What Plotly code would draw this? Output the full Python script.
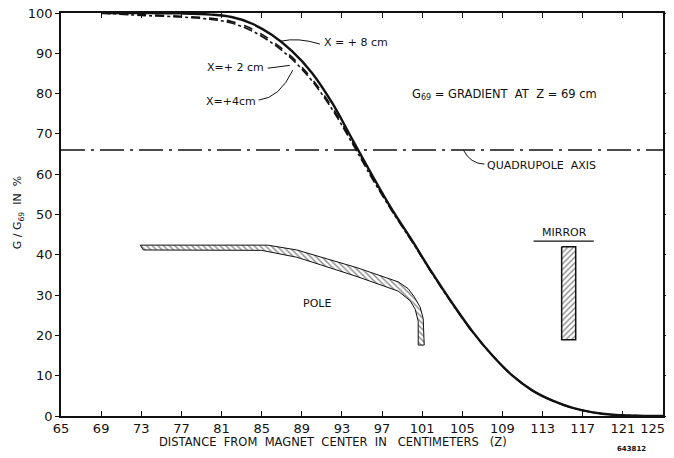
import plotly.graph_objects as go

# ---- data ----
z = [69, 73, 77, 80, 82, 84, 86, 88, 90, 92, 94, 96, 98, 100, 102, 104, 106, 108, 110, 112, 114, 116, 118, 120, 122, 125]
g_x8 = [100, 100, 99.9, 99.6, 99.0, 97.4, 94.6, 90.6, 85.2, 77.8, 68.8, 59.8, 51.2, 43.5, 35.5, 28.0, 21.0, 15.0, 10.0, 6.3, 3.8, 2.0, 0.9, 0.3, 0.1, 0.0]
g_x2 = [100, 99.6, 99.2, 98.7, 97.9, 96.1, 93.1, 89.1, 83.7, 76.7, 68.2, 59.3, 51.0, 43.3, 35.4, 27.9, 20.9, 15.0, 10.0, 6.3, 3.8, 2.0, 0.9, 0.3, 0.1, 0.0]
g_x4 = [100, 99.4, 99.0, 98.4, 97.5, 95.6, 92.6, 88.6, 83.2, 76.2, 67.8, 59.0, 50.8, 43.2, 35.3, 27.8, 20.9, 15.0, 10.0, 6.3, 3.8, 2.0, 0.9, 0.3, 0.1, 0.0]

quad_axis = 66

pole_z = [72.9, 85.6, 88.5, 90.9, 94.5, 98.6, 99.6, 100.2, 100.8, 101.1, 101.2,
          100.6, 100.6, 100.3, 99.8, 98.6, 94.5, 90.9, 88.5, 85.0, 73.2, 72.9]
pole_g = [42.4, 42.4, 41.2, 39.5, 36.8, 33.3, 31.6, 29.6, 27.0, 24.2, 17.6,
          17.6, 23.5, 26.5, 28.6, 31.0, 34.6, 37.5, 39.4, 41.1, 41.2, 42.4]

mirror_z = [114.9, 116.3, 116.3, 114.9, 114.9]
mirror_g = [42.0, 42.0, 18.9, 18.9, 42.0]

x_ticks = [65, 69, 73, 77, 81, 85, 89, 93, 97, 101, 105, 109, 113, 117, 121, 125]
x_tick_labels = ["65", "69", "73", "77", "81", "85", "89", "93", "97", "101", "105", "109", "113", "117", "121", "125"]
y_ticks = [0, 10, 20, 30, 40, 50, 60, 70, 80, 90, 100]

FONT = "DejaVu Sans"
BLACK = "#111111"

fig = go.Figure()

# pole and mirror (hatched)
fig.add_trace(go.Scatter(x=pole_z, y=pole_g, mode="lines", fill="toself",
                         line=dict(color=BLACK, width=1),
                         fillcolor="rgba(255,255,255,0)",
                         fillpattern=dict(shape="\\", fgcolor=BLACK, bgcolor="white", size=4, solidity=0.35),
                         hoverinfo="skip", showlegend=False))
fig.add_trace(go.Scatter(x=mirror_z, y=mirror_g, mode="lines", fill="toself",
                         line=dict(color=BLACK, width=1.5),
                         fillcolor="rgba(255,255,255,0)",
                         fillpattern=dict(shape="/", fgcolor=BLACK, bgcolor="white", size=4, solidity=0.35),
                         hoverinfo="skip", showlegend=False))

# curves
fig.add_trace(go.Scatter(x=z, y=g_x4, mode="lines", line=dict(color=BLACK, width=1.6, dash="dashdot", shape="spline"),
                         name="X=+4cm", showlegend=False))
fig.add_trace(go.Scatter(x=z, y=g_x2, mode="lines", line=dict(color=BLACK, width=1.6, dash="dash", shape="spline"),
                         name="X=+2cm", showlegend=False))
fig.add_trace(go.Scatter(x=z, y=g_x8, mode="lines", line=dict(color=BLACK, width=2.4, shape="spline"),
                         name="X=+8cm", showlegend=False))

# quadrupole axis line
fig.add_hline(y=quad_axis, line=dict(color=BLACK, width=1.3, dash="24px,6px,3px,6px"))

# leader lines
leaders = [
    "M 90.8,92.3 Q 88.6,94.0 86.9,93.0",
    "M 85.6,86.3 L 87.8,87.0",
    "M 84.7,78.4 Q 86.8,78.9 88.1,85.8",
    "M 105.1,66.0 Q 105.8,62.6 107.2,62.5",
]
for p in leaders:
    fig.add_shape(type="path", path=p, xref="x", yref="y", line=dict(color=BLACK, width=1))

# mirror label underline
fig.add_shape(type="line", x0=112.1, x1=118.1, y0=43.4, y1=43.4, xref="x", yref="y",
              line=dict(color=BLACK, width=1.2))

ann_font = dict(family=FONT, size=11, color=BLACK)
anns = [
    dict(x=91.0, y=92.6, text="X = + 8 cm", xanchor="left"),
    dict(x=85.4, y=86.5, text="X=+ 2 cm", xanchor="right"),
    dict(x=84.6, y=78.1, text="X=+4cm", xanchor="right"),
    dict(x=99.8, y=79.7, text="G<sub>69</sub> = GRADIENT  AT  Z = 69 cm", xanchor="left", size=11.5),
    dict(x=107.3, y=62.2, text="QUADRUPOLE  AXIS", xanchor="left", size=11),
    dict(x=90.5, y=28.0, text="POLE", xanchor="center"),
    dict(x=115.2, y=45.6, text="MIRROR", xanchor="center"),
]
for a in anns:
    f = dict(ann_font)
    if "size" in a:
        f["size"] = a.pop("size")
    fig.add_annotation(xref="x", yref="y", showarrow=False, font=f, yanchor="middle", **a)

# axis titles and id number
fig.add_annotation(xref="paper", yref="paper", x=-0.085, y=0.505, text="G / G<sub>69</sub>  IN  %",
                   textangle=-90, showarrow=False, font=dict(family=FONT, size=11, color=BLACK))
fig.add_annotation(xref="paper", yref="paper", x=0.452, y=-0.064,
                   text="DISTANCE  FROM  MAGNET  CENTER  IN   CENTIMETERS   (Z)",
                   showarrow=False, font=dict(family=FONT, size=11.5, color=BLACK), yanchor="middle")
fig.add_annotation(xref="paper", yref="paper", x=0.975, y=-0.083, text="<b>643812</b>",
                   showarrow=False, font=dict(family=FONT, size=7, color=BLACK), yanchor="middle")

# keep the last x label inside the window edge
tick_text = x_tick_labels[:-1] + [x_tick_labels[-1] + "&nbsp;" * 5]

# the page body adds an 8px offset, margins compensate for it
fig.update_layout(
    width=674, height=458,
    margin=dict(l=53, r=19, t=5, b=50),
    paper_bgcolor="white", plot_bgcolor="white",
    font=dict(family=FONT, color=BLACK),
    xaxis=dict(range=[65, 125], tickvals=x_ticks, ticktext=tick_text,
               automargin=False, ticklabeloverflow="allow",
               showgrid=False, zeroline=False, showline=True, linecolor=BLACK, linewidth=1.5,
               mirror="ticks", ticks="inside", ticklen=5, tickcolor=BLACK,
               tickfont=dict(family=FONT, size=13, color=BLACK)),
    yaxis=dict(range=[0, 100], tickvals=y_ticks, showgrid=False, zeroline=False,
               automargin=False, ticklabeloverflow="allow",
               showline=True, linecolor=BLACK, linewidth=1.5, mirror="ticks",
               ticks="outside", ticklen=4, tickcolor=BLACK,
               tickfont=dict(family=FONT, size=13, color=BLACK)),
)

fig.write_html("out.html")
